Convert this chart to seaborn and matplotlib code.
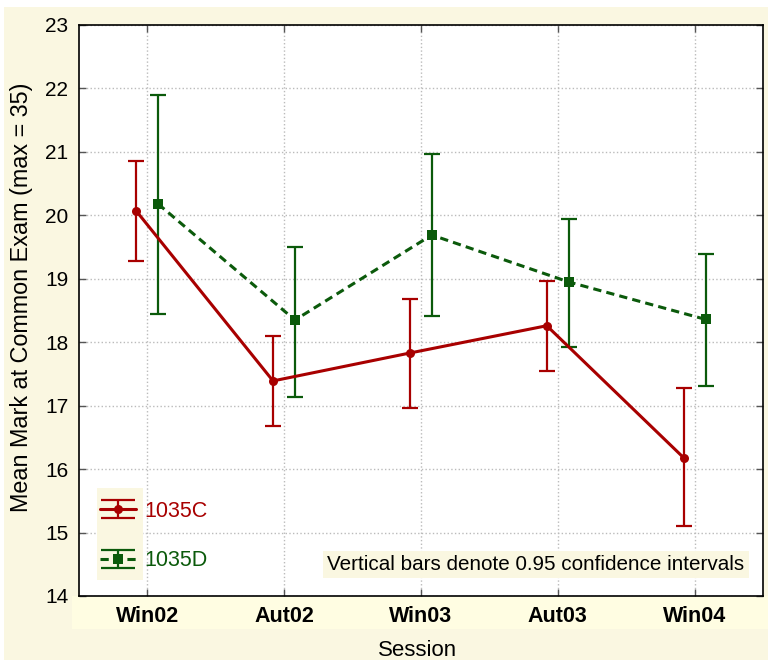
import numpy as np
import pandas as pd
import matplotlib
matplotlib.use("Agg")
from matplotlib import pyplot as plt
from matplotlib.patches import Rectangle
from matplotlib.lines import Line2D
from matplotlib.container import ErrorbarContainer
from matplotlib.legend_handler import HandlerErrorbar
import seaborn as sns

# values
sessions = ['Win02', 'Aut02', 'Win03', 'Aut03', 'Win04']
groups = ['1035C', '1035D']

c_mean = [20.07, 17.39, 17.83, 18.26, 16.18]
c_low = [19.28, 16.68, 16.97, 17.55, 15.10]
c_high = [20.85, 18.10, 18.68, 18.97, 17.28]

d_mean = [20.18, 18.35, 19.69, 18.95, 18.36]
d_low = [18.45, 17.14, 18.41, 17.92, 17.31]
d_high = [21.90, 19.50, 20.96, 19.94, 19.39]

colors = {'1035C': '#A80000', '1035D': '#0B5A0B'}
offsets = {'1035C': -0.08, '1035D': 0.08}
cream = '#FAF7E1'
band = '#FFFDE2'


class WideCapHandler(HandlerErrorbar):
    """Errorbar legend handle with caps as wide as the handle."""

    def create_artists(self, *args, **kwargs):
        artists = super().create_artists(*args, **kwargs)
        for a in artists:
            if isinstance(a, Line2D) and a.get_marker() == '_':
                a.set_markersize(25)
        return artists


sns.set_theme(style='white')
plt.rcParams['font.family'] = ['Liberation Sans', 'DejaVu Sans']

df = pd.DataFrame({
    'session': sessions * 2,
    'group': [groups[0]] * len(sessions) + [groups[1]] * len(sessions),
    'mean': c_mean + d_mean,
    'low': c_low + d_low,
    'high': c_high + d_high,
})
df['pos'] = np.tile(np.arange(len(sessions)), 2) + df['group'].map(offsets)

fig = plt.figure(figsize=(7.68, 6.6), dpi=100, facecolor=cream)
# light band behind the x tick labels and white edge strips
fig.add_artist(Rectangle((72 / 768, 31 / 660), 1, 33 / 660, transform=fig.transFigure,
                         facecolor=band, edgecolor='none', zorder=-1))
fig.add_artist(Rectangle((0, 1 - 7 / 660), 1, 7 / 660, transform=fig.transFigure,
                         facecolor='white', edgecolor='none', zorder=-1))
fig.add_artist(Rectangle((0, 0), 4 / 768, 1, transform=fig.transFigure,
                         facecolor='white', edgecolor='none', zorder=-1))

ax = fig.add_axes([78.7 / 768, 64 / 660, 684.3 / 768, 571 / 660])
ax.set_facecolor('white')

sns.lineplot(data=df, x='pos', y='mean', hue='group', style='group', palette=colors,
             markers={'1035C': 'o', '1035D': 's'}, dashes={'1035C': '', '1035D': (2.7, 1.7)},
             markersize=6.5, markeredgewidth=0, linewidth=2.2, sort=False, estimator=None,
             legend=False, ax=ax, zorder=3)
lines = list(ax.lines[:2])

handles = []
for g, line in zip(groups, lines):
    sub = df[df['group'] == g]
    e = ax.errorbar(sub['pos'], sub['mean'],
                    yerr=[sub['mean'] - sub['low'], sub['high'] - sub['mean']],
                    fmt='none', ecolor=colors[g], elinewidth=1.6, capsize=5.5,
                    capthick=1.6, zorder=2)
    handles.append(ErrorbarContainer((line, e.lines[1], e.lines[2]),
                                     has_xerr=False, has_yerr=True))

ax.set_xlim(-0.5, 4.5)
ax.set_ylim(14, 23)
ax.set_xticks(range(len(sessions)))
ax.set_xticklabels(sessions, fontweight='bold', fontsize=15.5)
ax.set_yticks(range(14, 24))
ax.tick_params(direction='in', length=5, width=1, color='#555555',
               labelcolor='black', top=True, right=True, bottom=True, left=True)
ax.tick_params(axis='x', pad=7.5)
ax.tick_params(axis='y', pad=7.5, labelsize=15)
ax.grid(True, linestyle=':', color='#BBBBBB', linewidth=1)
for s in ax.spines.values():
    s.set_visible(True)
    s.set_color('black')
    s.set_linewidth(1.2)

ax.set_xlabel('Session', fontsize=16, color='black')
ax.set_ylabel('Mean Mark at Common Exam (max = 35)', fontsize=16.8, color='black')
ax.xaxis.set_label_coords(0.495, -0.077)
ax.yaxis.set_label_coords(-0.067, 0.524)

# cream box behind the legend handles
ax.add_patch(Rectangle((0.0267, 0.028), 0.067, 0.161, transform=ax.transAxes,
                       facecolor=cream, edgecolor='none', zorder=1))
leg = ax.legend(handles=handles, labels=groups,
                handler_map={ErrorbarContainer: WideCapHandler(yerr_size=0.42)},
                loc='lower left', bbox_to_anchor=(0.031, 0.043), frameon=False,
                handlelength=1.67, labelspacing=1.33, handletextpad=0.4, fontsize=15.5,
                borderpad=0, borderaxespad=0)
for t, g in zip(leg.get_texts(), groups):
    t.set_color(colors[g])

ax.text(0.668, 0.055, 'Vertical bars denote 0.95 confidence intervals', transform=ax.transAxes,
        ha='center', va='center', fontsize=14.9, color='black',
        bbox=dict(boxstyle='square,pad=0.2', facecolor=cream, edgecolor='none'))

fig.savefig('out.png', dpi=100, facecolor=fig.get_facecolor())
plt.close(fig)
